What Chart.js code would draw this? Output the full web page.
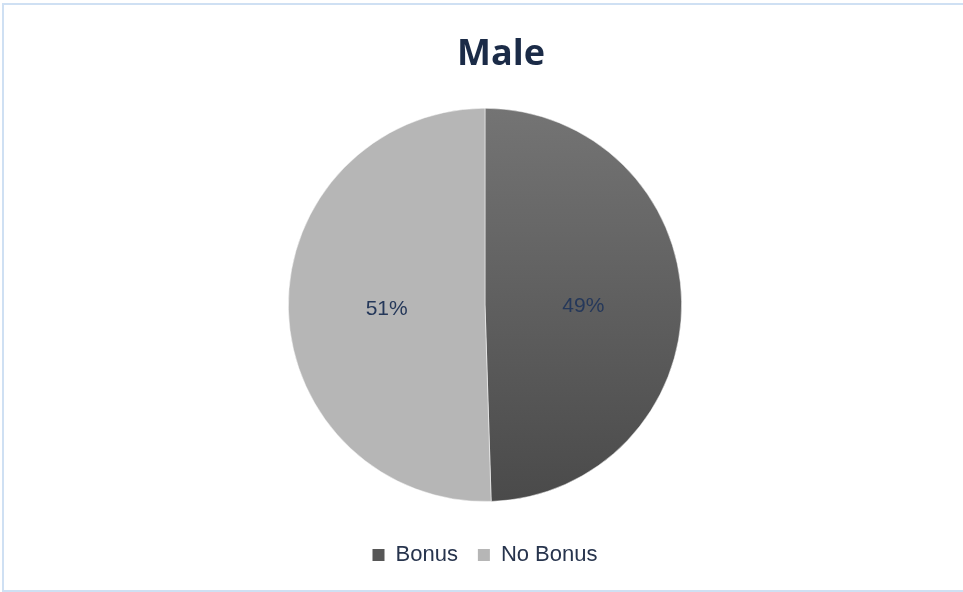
<!DOCTYPE html>
<html>
<head>
<meta charset="utf-8">
<script src="https://cdn.jsdelivr.net/npm/chart.js@4"></script>
<style>
  html, body { margin: 0; padding: 0; background: #ffffff; overflow: hidden; }
  #wrap { position: relative; width: 963px; height: 592px; overflow: hidden; }
  canvas { position: absolute; left: 0; top: 0; }
  #frame { position: absolute; left: 2px; top: 3px; width: 980px; height: 589px; border: 2px solid #cfe0f3; border-right: none; pointer-events: none; box-sizing: border-box; }
</style>
</head>
<body>
<div id="wrap">
  <canvas id="c" width="963" height="592"></canvas>
  <div id="frame"></div>
</div>
<script>
const chartTitle = "Male";
const categories = ["Bonus", "No Bonus"];
const values = [49.5, 50.5];
const percentLabels = ["49%", "51%"];

const titleText = {
  id: 'titleText',
  afterDraw(chart) {
    const ctx = chart.ctx;
    ctx.save();
    ctx.font = 'bold 36px "Open Sans", sans-serif';
    ctx.fillStyle = '#1b2b47';
    ctx.textAlign = 'center';
    ctx.textBaseline = 'alphabetic';
    ctx.fillText(chartTitle, 501, 65);
    ctx.restore();
  }
};

const sliceLabels = {
  id: 'sliceLabels',
  afterDatasetsDraw(chart) {
    const ctx = chart.ctx;
    const meta = chart.getDatasetMeta(0);
    ctx.save();
    ctx.font = '21px "Liberation Sans", Arial, sans-serif';
    ctx.fillStyle = '#25385a';
    ctx.textAlign = 'center';
    ctx.textBaseline = 'middle';
    meta.data.forEach((arc, i) => {
      const p = arc.getCenterPoint();
      ctx.fillText(percentLabels[i], p.x, p.y + 3);
    });
    ctx.restore();
  }
};

function sliceFill(context) {
  if (context.dataIndex !== 0) return '#b6b6b6';
  const chart = context.chart;
  const area = chart.chartArea;
  if (!area) return '#5e5e5e';
  const g = chart.ctx.createLinearGradient(0, area.top, 0, area.bottom);
  g.addColorStop(0, '#747474');
  g.addColorStop(1, '#4a4a4a');
  return g;
}

new Chart(document.getElementById('c'), {
  type: 'pie',
  data: {
    labels: categories,
    datasets: [{
      data: values,
      backgroundColor: sliceFill,
      borderColor: '#ffffff',
      borderWidth: 0.5
    }]
  },
  options: {
    responsive: false,
    animation: false,
    layout: { padding: { top: 108, bottom: 16, left: 7, right: 0 } },
    plugins: {
      title: { display: false },
      legend: {
        position: 'bottom',
        title: {
          display: true,
          text: ' ',
          font: { size: 1 },
          padding: { top: 21, bottom: 0 }
        },
        labels: {
          color: '#27344d',
          font: { family: '"Liberation Sans", Arial, sans-serif', size: 22 },
          boxWidth: 12,
          boxHeight: 12,
          padding: 20,
          generateLabels(chart) {
            return categories.map((c, i) => ({
              text: c,
              fillStyle: i === 0 ? '#575757' : '#b6b6b6',
              strokeStyle: i === 0 ? '#575757' : '#b6b6b6',
              lineWidth: 0,
              hidden: false,
              index: i,
              fontColor: '#27344d'
            }));
          }
        }
      },
      tooltip: { enabled: false }
    }
  },
  plugins: [sliceLabels, titleText]
});
</script>
</body>
</html>
